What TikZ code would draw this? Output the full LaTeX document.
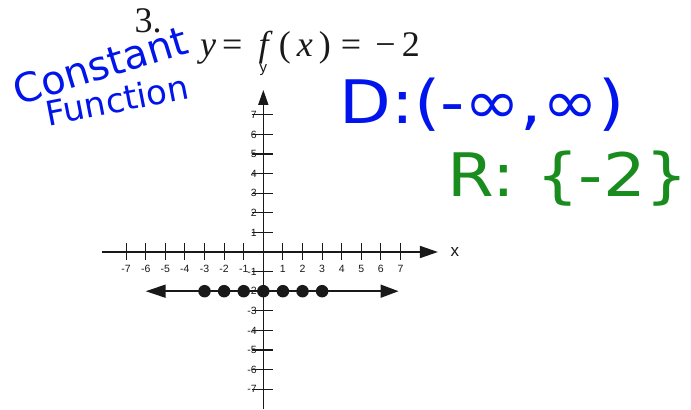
\documentclass[tikz,border=0pt]{standalone}
\usepackage{fontspec}
\setmainfont{Liberation Serif}
\setsansfont{Liberation Sans}
\newfontfamily\handfont{DejaVu Sans}
\newfontfamily\handwide[FakeStretch=1.12]{DejaVu Sans}
\usetikzlibrary{arrows.meta}
\definecolor{penBlue}{RGB}{0,20,235}
\definecolor{penGreen}{RGB}{25,140,30}
\definecolor{gridInk}{RGB}{25,25,25}

\begin{document}
\begin{tikzpicture}[x=19.6pt, y=19.6pt,
  axis/.style={gridInk, line width=1.6pt},
  tickmark/.style={gridInk, line width=1.1pt},
  lbl/.style={font=\sffamily\fontsize{10.5}{10.5}\selectfont, text=gridInk, inner sep=0pt},
  dot/.style={circle, fill=gridInk, inner sep=0pt, minimum size=12.5pt},
  hand/.style={font=\handfont\fontsize{#1}{#1}\selectfont, inner sep=0pt},
  handw/.style={font=\handwide\fontsize{#1}{#1}\selectfont, inner sep=0pt}]
  \useasboundingbox (-13.434,-8.015) rectangle (21.82,12.857);

  % axes
  \coordinate (xl) at (-8.23,0);
  \coordinate (xr) at (8.91,0);
  \coordinate (yb) at (0,-8.0);
  \coordinate (yt) at (0,8.27);
  \draw[axis, -{Triangle[length=18pt,width=12pt]}] (xl) -- (xr);
  \draw[axis, -{Triangle[length=15pt,width=10pt]}] (yb) -- (yt);
  \node[lbl, font=\sffamily\fontsize{17}{17}\selectfont] (xname) at (9.77,0) {x};
  \node[lbl, font=\sffamily\fontsize{15}{15}\selectfont] (yname) at (0,9.29) {y};

  % ticks and numbers
  \foreach \i in {-7,...,-1,1,2,...,7} {
    \draw[tickmark] (\i,0.46) -- (\i,-0.41);
    \draw[tickmark] (-0.59,\i) -- (0.51,\i);
    \node[lbl] (xt\i) at (\i,-0.88) {\i};
    \node[lbl, anchor=east] (yt\i) at (-0.33,\i) {\i};
  }

  % the constant function
  \coordinate (hl) at (-6,-2);
  \coordinate (hr) at (6.9,-2);
  \draw[axis, {Triangle[length=20pt,width=13pt]}-{Triangle[length=18pt,width=13pt]}] (hl) -- (hr);
  \foreach \i in {-3,...,3}
    \node[dot] (pt\i) at (\i,-2) {};

  % heading
  \node[inner sep=0pt, font=\fontsize{36}{36}\selectfont, text=gridInk] (num) at (-5.88,11.78) {3.};
  \node[inner sep=0pt, anchor=base west, font=\fontsize{36}{36}\selectfont, text=gridInk] (eqn) at (-3.23,9.95)
    {\textit{y}\,=\hspace{0.45em}\textit{f}\,(\,\textit{x}\,)\;=\hspace{0.4em}−\,2};

  % handwriting
  \node[hand=40, text=penBlue, rotate=17] (const) at (-8.33,9.54) {Constant};
  \node[hand=34, text=penBlue, rotate=11] (func) at (-7.47,7.76) {Function};
  \node[handw=60, text=penBlue] (dom) at (11.16,7.5) {D:(-∞,∞)};
  \node[handw=60, text=penGreen] (rng) at (15.55,3.72) {R: \{-2\}};
\end{tikzpicture}
\end{document}
